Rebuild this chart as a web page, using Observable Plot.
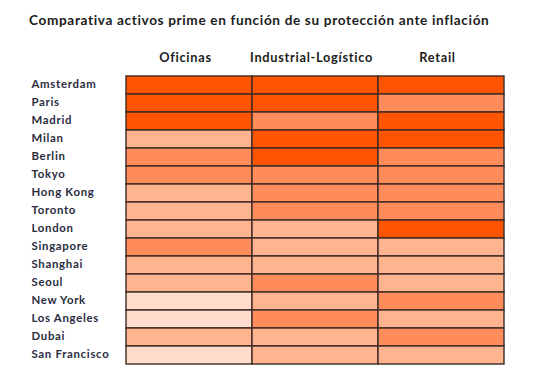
<!DOCTYPE html>
<html>
<head>
<meta charset="utf-8">
<script src="https://cdn.jsdelivr.net/npm/d3@7"></script>
<script src="https://cdn.jsdelivr.net/npm/@observablehq/plot@0.6"></script>
<style>
  html, body { margin: 0; padding: 0; background: #fff; }
  #title { height: 40px; box-sizing: border-box; padding-top: 12px; padding-left: 29px; font-family: Lato, sans-serif; font-weight: bold; font-size: 13.6px; letter-spacing: 0.65px; color: #1c1c1c; white-space: nowrap; }
  svg { display: block; }
</style>
</head>
<body>
<div id="title">Comparativa activos prime en función de su protección ante inflación</div>
<div id="chart"></div>
<script>
const cities = ["Amsterdam","Paris","Madrid","Milan","Berlin","Tokyo","Hong Kong","Toronto","London","Singapore","Shanghai","Seoul","New York","Los Angeles","Dubai","San Francisco"];
const categories = ["Oficinas","Industrial-Logístico","Retail"];
const oficinas   = [4,4,4,2,3,3,2,2,2,3,2,2,1,1,2,1];
const industrial = [4,4,3,4,4,3,3,3,2,2,2,3,2,3,2,2];
const retail     = [4,3,4,4,3,3,3,3,4,2,2,2,3,2,3,2];
const levels = [1,2,3,4];
const levelColors = ["#ffdccb","#ffb38f","#ff8c5a","#ff5500"];

const series = [oficinas, industrial, retail];
const table = [];
categories.forEach((c, j) => cities.forEach((city, i) => table.push({category: c, city, value: series[j][i]})));

const chart = Plot.plot({
  width: 539,
  height: 341,
  marginLeft: 126,
  marginRight: 35,
  marginTop: 34,
  marginBottom: 15,
  style: {fontFamily: "Lato, sans-serif", background: "#fff", letterSpacing: "0.7px"},
  x: {domain: categories, padding: 0, label: null},
  y: {domain: cities, padding: 0, label: null},
  color: {type: "ordinal", domain: levels, range: levelColors},
  marks: [
    Plot.cell(table, {x: "category", y: "city", fill: "value", stroke: "#3d2a24", strokeWidth: 1.4, inset: 0}),
    Plot.axisX({anchor: "top", tickSize: 0, tickPadding: 13, fontSize: 12.8, fontWeight: "bold", fill: "#1c1c1c", dx: -4}),
    Plot.axisY({anchor: "left", tickSize: 0, tickPadding: 0, textAnchor: "start", dx: -95, dy: -1.5, fontSize: 11.4, fontWeight: "bold", fill: "#2a2c3e"})
  ]
});
document.getElementById("chart").append(chart);
</script>
</body>
</html>
